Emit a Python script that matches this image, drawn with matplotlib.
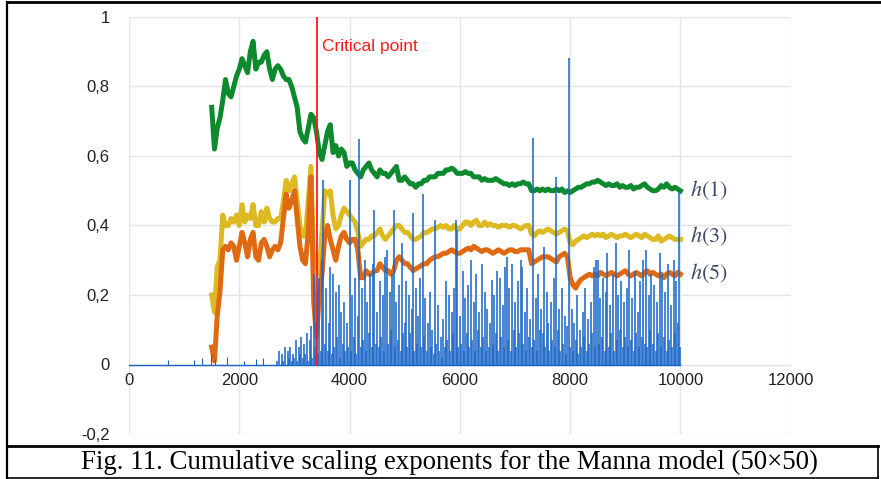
import numpy as np
import matplotlib
matplotlib.use("Agg")
import matplotlib.pyplot as plt
from matplotlib.lines import Line2D

plt.rcParams["font.family"] = ["Liberation Sans", "DejaVu Sans"]
plt.rcParams["mathtext.fontset"] = "stix"

# ---------------- data ----------------
x_ticks = [0, 2000, 4000, 6000, 8000, 10000, 12000]
x_tick_labels = ["0", "2000", "4000", "6000", "8000", "10000", "12000"]
y_ticks = [-0.2, 0.0, 0.2, 0.4, 0.6, 0.8, 1.0]
y_tick_labels = ["-0,2", "0", "0,2", "0,4", "0,6", "0,8", "1"]

critical_x = 3410
critical_label = "Critical point"
caption = "Fig. 11. Cumulative scaling exponents for the Manna model (50\u00d750)"
series_labels = ["$h(1)$", "$h(3)$", "$h(5)$"]

# h-series sampled every 50 from 1500 to 10000
h_x = np.arange(1500, 10001, 50)

h1 = [
    0.74, 0.62, 0.68, 0.71, 0.76, 0.82, 0.78, 0.77, 0.80, 0.83,
    0.85, 0.88, 0.86, 0.84, 0.90, 0.93, 0.85, 0.87, 0.87, 0.89,
    0.90, 0.85, 0.82, 0.85, 0.86, 0.85, 0.83, 0.82, 0.82, 0.80,
    0.77, 0.74, 0.67, 0.65, 0.64, 0.68, 0.72, 0.71, 0.67, 0.61,
    0.59, 0.63, 0.67, 0.69, 0.61, 0.63, 0.60, 0.62, 0.61, 0.57,
    0.58, 0.58, 0.56, 0.55, 0.54, 0.56, 0.57, 0.58, 0.56, 0.55,
    0.54, 0.56, 0.55, 0.55, 0.54, 0.55, 0.56, 0.57, 0.53, 0.53,
    0.54, 0.53, 0.52, 0.52, 0.51, 0.52, 0.52, 0.53, 0.53, 0.54,
    0.54, 0.54, 0.55, 0.55, 0.55, 0.56, 0.56, 0.565, 0.56, 0.55,
    0.55, 0.55, 0.555, 0.55, 0.55, 0.54, 0.54, 0.54, 0.53, 0.535,
    0.53, 0.53, 0.53, 0.535, 0.53, 0.525, 0.52, 0.52, 0.515, 0.52,
    0.515, 0.52, 0.52, 0.525, 0.52, 0.52, 0.50, 0.50, 0.505, 0.50,
    0.505, 0.50, 0.505, 0.50, 0.50, 0.505, 0.50, 0.505, 0.495, 0.50,
    0.495, 0.50, 0.505, 0.51, 0.51, 0.515, 0.52, 0.52, 0.525, 0.525,
    0.53, 0.525, 0.52, 0.515, 0.52, 0.515, 0.515, 0.52, 0.51, 0.515,
    0.51, 0.51, 0.515, 0.505, 0.51, 0.51, 0.515, 0.52, 0.51, 0.505,
    0.50, 0.50, 0.505, 0.515, 0.51, 0.52, 0.51, 0.505, 0.51, 0.505,
    0.50,
]

h3 = [
    0.20, 0.15, 0.28, 0.30, 0.43, 0.40, 0.40, 0.42, 0.41, 0.43,
    0.40, 0.46, 0.41, 0.43, 0.42, 0.46, 0.40, 0.40, 0.44, 0.41,
    0.45, 0.42, 0.41, 0.41, 0.42, 0.42, 0.47, 0.53, 0.50, 0.52,
    0.54, 0.47, 0.40, 0.37, 0.37, 0.47, 0.57, 0.28, 0.31, 0.26,
    0.38, 0.50, 0.49, 0.50, 0.43, 0.39, 0.40, 0.43, 0.45, 0.44,
    0.43, 0.42, 0.41, 0.38, 0.34, 0.35, 0.36, 0.36, 0.37, 0.37,
    0.38, 0.39, 0.37, 0.36, 0.37, 0.38, 0.39, 0.40, 0.40, 0.39,
    0.38, 0.38, 0.37, 0.36, 0.36, 0.365, 0.37, 0.38, 0.38, 0.385,
    0.39, 0.39, 0.395, 0.40, 0.395, 0.40, 0.39, 0.39, 0.40, 0.39,
    0.39, 0.40, 0.41, 0.41, 0.40, 0.41, 0.415, 0.40, 0.40, 0.41,
    0.40, 0.405, 0.40, 0.40, 0.395, 0.40, 0.40, 0.40, 0.395, 0.40,
    0.40, 0.395, 0.39, 0.395, 0.40, 0.40, 0.375, 0.37, 0.38, 0.385,
    0.38, 0.385, 0.39, 0.385, 0.38, 0.375, 0.38, 0.385, 0.39, 0.385,
    0.35, 0.345, 0.355, 0.36, 0.365, 0.37, 0.365, 0.37, 0.375, 0.37,
    0.375, 0.37, 0.375, 0.365, 0.37, 0.375, 0.37, 0.365, 0.37, 0.37,
    0.375, 0.37, 0.365, 0.37, 0.375, 0.37, 0.365, 0.375, 0.37, 0.365,
    0.36, 0.36, 0.37, 0.355, 0.36, 0.365, 0.37, 0.365, 0.36, 0.36,
    0.36,
]

h5 = [
    0.05, 0.01, 0.14, 0.21, 0.33, 0.34, 0.33, 0.35, 0.34, 0.30,
    0.34, 0.38, 0.35, 0.31, 0.36, 0.38, 0.31, 0.30, 0.35, 0.36,
    0.34, 0.31, 0.33, 0.34, 0.33, 0.35, 0.42, 0.49, 0.45, 0.47,
    0.50, 0.42, 0.34, 0.30, 0.29, 0.38, 0.54, 0.18, 0.08, 0.20,
    0.26, 0.37, 0.40, 0.36, 0.33, 0.30, 0.34, 0.37, 0.38, 0.36,
    0.35, 0.36, 0.36, 0.33, 0.25, 0.25, 0.27, 0.26, 0.26, 0.27,
    0.27, 0.29, 0.28, 0.27, 0.27, 0.26, 0.27, 0.30, 0.31, 0.30,
    0.29, 0.29, 0.28, 0.27, 0.275, 0.28, 0.285, 0.29, 0.29, 0.30,
    0.305, 0.31, 0.31, 0.315, 0.32, 0.32, 0.325, 0.33, 0.325, 0.32,
    0.32, 0.325, 0.33, 0.335, 0.33, 0.34, 0.335, 0.33, 0.325, 0.33,
    0.33, 0.325, 0.32, 0.325, 0.33, 0.325, 0.32, 0.325, 0.33, 0.33,
    0.325, 0.325, 0.33, 0.33, 0.33, 0.33, 0.29, 0.295, 0.30, 0.305,
    0.31, 0.31, 0.31, 0.305, 0.30, 0.295, 0.31, 0.315, 0.32, 0.31,
    0.25, 0.23, 0.22, 0.235, 0.245, 0.25, 0.255, 0.26, 0.255, 0.26,
    0.255, 0.265, 0.26, 0.255, 0.26, 0.265, 0.26, 0.255, 0.26, 0.265,
    0.27, 0.26, 0.255, 0.26, 0.265, 0.26, 0.255, 0.265, 0.27, 0.26,
    0.265, 0.26, 0.255, 0.26, 0.25, 0.26, 0.265, 0.26, 0.255, 0.265,
    0.26,
]

# blue spike series: sparse early spikes, then samples every 25 from 2500 to 10000
blue_early_x = [700, 1170, 1320, 1480, 1560, 1780, 2080, 2310, 2430]
blue_early_y = [0.012, 0.012, 0.018, 0.03, 0.015, 0.022, 0.01, 0.015, 0.02]

blue_x = np.arange(2500, 10001, 25)
blue_y = [
    0, 0, 0, 0, 0, 0, 0, 0.01, 0, 0.04, 0, 0.03, 0.01, 0.05, 0, 0.04, 0.02, 0.05, 0.01, 0.03,
    0.02, 0.07, 0.01, 0.05, 0.03, 0.08, 0.02, 0.06, 0.03, 0.09, 0.01, 0.07, 0.11, 0.02, 0.26, 0.05, 0.12, 0.03, 0.25, 0.04,
    0.30, 0.53, 0.06, 0.22, 0.04, 0.12, 0.28, 0.03, 0.26, 0.05, 0.21, 0.08, 0.23, 0.02, 0.15, 0.06, 0.18, 0.04, 0.12, 0.05,
    0.53, 0.04, 0.20, 0.08, 0.25, 0.03, 0.14, 0.65, 0.05, 0.22, 0.07, 0.30, 0.04, 0.18, 0.09, 0.26, 0.05, 0.29, 0.445, 0.06,
    0.15, 0.05, 0.24, 0.08, 0.20, 0.04, 0.31, 0.33, 0.06, 0.21, 0.10, 0.26, 0.445, 0.05, 0.18, 0.07, 0.23, 0.04, 0.35, 0.09,
    0.12, 0.24, 0.05, 0.20, 0.09, 0.16, 0.435, 0.04, 0.22, 0.06, 0.14, 0.25, 0.05, 0.49, 0.08, 0.19, 0.04, 0.12, 0.21, 0.05,
    0.10, 0.03, 0.416, 0.06, 0.17, 0.04, 0.08, 0.02, 0.13, 0.05, 0.24, 0.07, 0.20, 0.04, 0.15, 0.09, 0.22, 0.416, 0.387, 0.05,
    0.14, 0.06, 0.27, 0.04, 0.19, 0.09, 0.23, 0.05, 0.30, 0.07, 0.18, 0.04, 0.26, 0.10, 0.15, 0.05, 0.29, 0.08, 0.21, 0.04,
    0.16, 0.05, 0.12, 0.243, 0.06, 0.20, 0.09, 0.27, 0.04, 0.25, 0.08, 0.17, 0.05, 0.28, 0.31, 0.07, 0.22, 0.04, 0.29, 0.10,
    0.18, 0.05, 0.24, 0.09, 0.30, 0.281, 0.06, 0.15, 0.04, 0.22, 0.08, 0.13, 0.05, 0.651, 0.07, 0.19, 0.04, 0.26, 0.10, 0.16,
    0.09, 0.339, 0.05, 0.21, 0.12, 0.04, 0.18, 0.07, 0.25, 0.05, 0.54, 0.10, 0.16, 0.04, 0.22, 0.06, 0.14, 0.03, 0.11, 0.881,
    0.05, 0.16, 0.04, 0.12, 0.07, 0.20, 0.03, 0.10, 0.05, 0.15, 0.08, 0.22, 0.04, 0.13, 0.06, 0.18, 0.09, 0.28, 0.05, 0.30,
    0.301, 0.06, 0.19, 0.08, 0.25, 0.04, 0.21, 0.32, 0.05, 0.17, 0.09, 0.26, 0.04, 0.349, 0.07, 0.20, 0.10, 0.24, 0.05, 0.18,
    0.08, 0.22, 0.05, 0.33, 0.07, 0.19, 0.04, 0.27, 0.09, 0.15, 0.05, 0.24, 0.08, 0.30, 0.06, 0.33, 0.05, 0.20, 0.10, 0.26,
    0.06, 0.23, 0.04, 0.18, 0.09, 0.32, 0.05, 0.26, 0.08, 0.21, 0.04, 0.29, 0.07, 0.17, 0.05, 0.301, 0.09, 0.24, 0.12, 0.50,
    0.05,
]

# ---------------- figure ----------------
W, H = 881, 479
fig = plt.figure(figsize=(W / 100, H / 100), dpi=100)
fig.patch.set_facecolor("white")

ax_left, ax_right, ax_top, ax_bottom = 129, 790.7, 17, 434
ax = fig.add_axes([ax_left / W, 1 - ax_bottom / H, (ax_right - ax_left) / W, (ax_bottom - ax_top) / H])
ax.set_xlim(0, 12000)
ax.set_ylim(-0.2, 1.0)

grid_c = "#E4E4E4"
ax.set_xticks(x_ticks)
ax.set_xticklabels(x_tick_labels)
ax.set_yticks(y_ticks)
ax.set_yticklabels(y_tick_labels)
ax.grid(True, color=grid_c, linewidth=1.0, zorder=0)
ax.set_axisbelow(True)
for s in ["top", "right", "left"]:
    ax.spines[s].set_visible(False)
ax.spines["bottom"].set_position(("data", 0))
ax.spines["bottom"].set_color(grid_c)
ax.tick_params(axis="both", length=0, labelsize=12, colors="#222222")
ax.tick_params(axis="x", pad=6)
ax.tick_params(axis="y", pad=14)

# h series
ax.plot(h_x, h1, color="#0E8A2E", linewidth=3.6, zorder=3, solid_joinstyle="round")
ax.plot(h_x, h3, color="#DDBA22", linewidth=3.6, zorder=3, solid_joinstyle="round")
ax.plot(h_x, h5, color="#E06A12", linewidth=3.6, zorder=3, solid_joinstyle="round")

# blue spikes (each sample drawn from zero)
ax.plot([0, 10000], [0, 0], color="#1566C8", linewidth=1.0, zorder=4)
ax.vlines(blue_early_x, 0, blue_early_y, color="#1566C8", linewidth=0.8, zorder=4)
ax.vlines(blue_x, 0, blue_y, color="#1E69C8", linewidth=1.15, zorder=4)

# critical point
ax.plot([critical_x, critical_x], [0, 1.0], color="#FF1A1A", linewidth=1.3, zorder=5)
ax.text(3500, 0.915, critical_label, color="#FF1A1A", fontsize=12.5, ha="left", va="center", zorder=6)

# series labels
lab_c = "#3E4A66"
for lab, yv in zip(series_labels, [0.502, 0.368, 0.262]):
    ax.text(10175, yv, lab, color=lab_c, fontsize=16, ha="left", va="center", clip_on=False)

# caption and frame
fig.text(449 / W, 1 - 462 / H, caption, family=["Liberation Serif", "DejaVu Serif"],
         fontsize=19.4, ha="center", va="center", color="black")

def fline(x0, y0, x1, y1, lw=1.6):
    fig.add_artist(Line2D([x0 / W, x1 / W], [1 - y0 / H, 1 - y1 / H], color="black", linewidth=lw))

fline(7, 2, 881, 2, 2.0)
fline(7, 2, 7, 478)
fline(7, 446, 878, 446, 2.0)
fline(7, 477.5, 878, 477.5, 1.2)
fline(878, 446, 878, 478, 1.2)

fig.savefig("out.png", dpi=100, facecolor="white")
